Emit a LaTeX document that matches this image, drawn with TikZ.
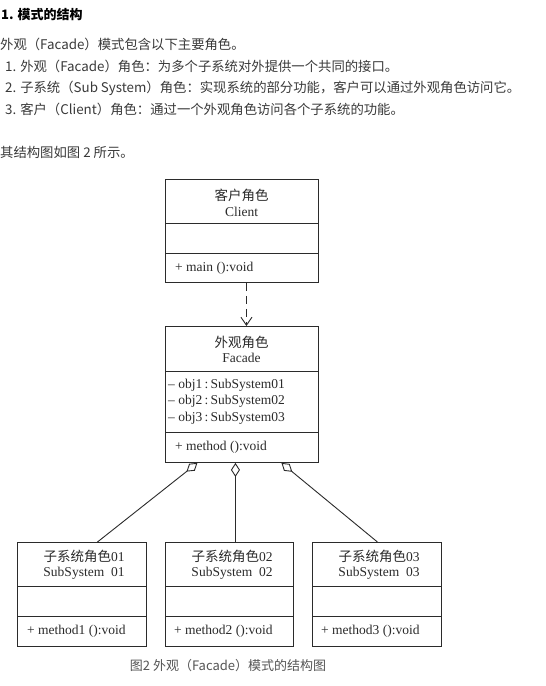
\documentclass[tikz,border=0pt]{standalone}
\usepackage{fontspec}
\setmainfont{Liberation Serif}
\newfontfamily\cjk{Noto Sans CJK SC}
\usetikzlibrary{arrows.meta,calc}
\definecolor{ink}{HTML}{2B2B2B}
\definecolor{bodytext}{HTML}{3A3A3A}
\definecolor{captext}{HTML}{555555}
\begin{document}
\begin{tikzpicture}[x=1pt,y=-1pt,
  para/.style={anchor=west, inner sep=0, text=bodytext, font=\cjk\fontsize{13.35}{15}\selectfont},
  classbox/.style={draw=ink, line width=0.9pt, anchor=north west, inner sep=0, minimum width=#1},
  title/.style={inner sep=0, text=ink, font=\fontsize{13.5}{15}\selectfont},
  member/.style={anchor=west, inner sep=0, text=ink, font=\fontsize{13.5}{15}\selectfont},
  divider/.style={draw=ink, line width=0.9pt},
  depend/.style={draw=ink, line width=0.9pt, dash pattern=on 8pt off 5pt, -{Straight Barb[length=8pt,width=11pt,line width=0.9pt]}},
  aggreg/.style={draw=ink, line width=0.9pt, -{Diamond[open,length=14pt,width=9pt,line width=0.9pt]}},
]
\useasboundingbox[fill=white] (0,0) rectangle (546,686);

% introductory text
\node[para, font=\cjk\bfseries\fontsize{13}{15}\selectfont, text=black] (h1) at (1,15) {1. 模式的结构};
\node[para] (p0) at (0,44) {外观（Facade）模式包含以下主要角色。};
\node[para] (p1) at (5,66) {1. 外观（Facade）角色：为多个子系统对外提供一个共同的接口。};
\node[para] (p2) at (5,88) {2. 子系统（Sub System）角色：实现系统的部分功能，客户可以通过外观角色访问它。};
\node[para] (p3) at (5,109) {3. 客户（Client）角色：通过一个外观角色访问各个子系统的功能。};
\node[para] (p4) at (0,152) {其结构图如图 2 所示。};

% Client class
\node[classbox=153pt, minimum height=103pt] (client) at (165,179) {};
\draw[divider] ($(client.north west)+(0,44)$) -- ($(client.north east)+(0,44)$);
\draw[divider] ($(client.north west)+(0,74)$) -- ($(client.north east)+(0,74)$);
\node[title] (clientcn) at (241.5,195) {{\cjk 客户角色}};
\node[title] (clienten) at (241.5,212) {Client};
\node[member] (clientop) at (175,268) {+ main ():void};

% Facade class
\node[classbox=153pt, minimum height=136pt] (facade) at (165,326) {};
\draw[divider] ($(facade.north west)+(0,45)$) -- ($(facade.north east)+(0,45)$);
\draw[divider] ($(facade.north west)+(0,106)$) -- ($(facade.north east)+(0,106)$);
\node[title] (facadecn) at (241.5,342) {{\cjk 外观角色}};
\node[title] (facadeen) at (241.5,358) {Facade};
\node[member] (attr1) at (168,385) {– obj1\,:\,SubSystem01};
\node[member] (attr2) at (168,401) {– obj2\,:\,SubSystem02};
\node[member] (attr3) at (168,418) {– obj3\,:\,SubSystem03};
\node[member] (facadeop) at (175,447) {+ method ():void};

% Subsystem classes
\node[classbox=129pt, minimum height=104pt] (sub1) at (17,542) {};
\node[classbox=128pt, minimum height=104pt] (sub2) at (165,542) {};
\node[classbox=129pt, minimum height=104pt] (sub3) at (312,542) {};
\foreach \s in {sub1,sub2,sub3}{
  \draw[divider] ($(\s.north west)+(0,44)$) -- ($(\s.north east)+(0,44)$);
  \draw[divider] ($(\s.north west)+(0,74)$) -- ($(\s.north east)+(0,74)$);
}
\node[title] (sub1cn) at (84,556) {{\cjk 子系统角色}01};
\node[title] (sub1en) at (84,573) {SubSystem\ \ 01};
\node[member] (sub1op) at (27,631) {+ method1 ():void};
\node[title] (sub2cn) at (232,556) {{\cjk 子系统角色}02};
\node[title] (sub2en) at (232,573) {SubSystem\ \ 02};
\node[member] (sub2op) at (174,631) {+ method2 ():void};
\node[title] (sub3cn) at (379,556) {{\cjk 子系统角色}03};
\node[title] (sub3en) at (379,573) {SubSystem\ \ 03};
\node[member] (sub3op) at (321,631) {+ method3 ():void};

% relations
\draw[depend] ([xshift=4.5pt]client.south) -- ([xshift=4.5pt]facade.north);
\draw[aggreg] ([xshift=15.5pt]sub1.north) -- ([xshift=-44.5pt]facade.south);
\draw[aggreg] ([xshift=6pt]sub2.north) -- ([xshift=-6.5pt]facade.south);
\draw[aggreg] ([xshift=0.5pt]sub3.north) -- ([xshift=39.5pt]facade.south);

% caption
\node[inner sep=0, text=captext, font=\cjk\fontsize{13}{15}\selectfont] (caption) at (228,666) {图2 外观（Facade）模式的结构图};
\end{tikzpicture}
\end{document}
